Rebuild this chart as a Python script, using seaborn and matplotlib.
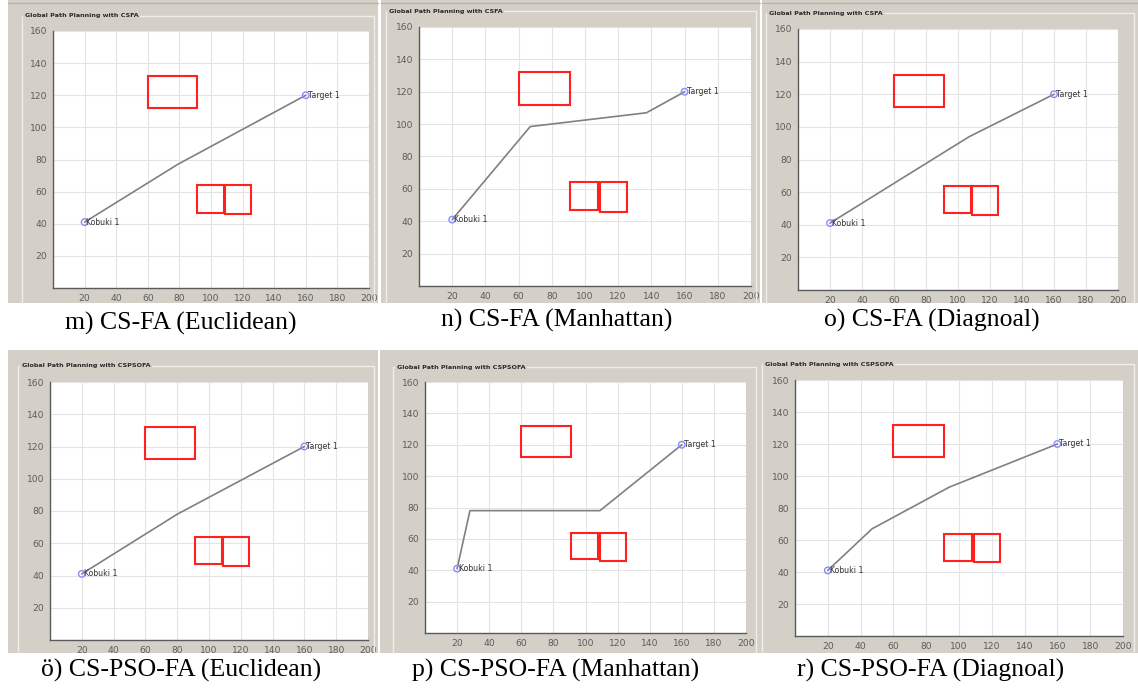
import matplotlib
matplotlib.use("Agg")
import matplotlib.pyplot as plt
from matplotlib.patches import Rectangle
from matplotlib.lines import Line2D
import seaborn as sns
import pandas as pd

sns.set_style("white")
plt.rcParams["font.family"] = ["DejaVu Sans"]

W, H = 1138, 693

# Obstacles: (x, y, width, height)
obstacle_x = [60, 91, 109]
obstacle_y = [112, 47, 46]
obstacle_w = [31, 17, 16]
obstacle_h = [20, 17, 18]

start_xy = (20, 41)
target_xy = (160, 120)
start_label = "Kobuki 1"
target_label = "Target 1"

# Planned paths (waypoints)
path_m_x = [20, 79, 160]
path_m_y = [41, 77, 120]
path_n_x = [20, 67, 137, 160]
path_n_y = [41, 98.5, 107, 120]
path_o_x = [20, 61, 107, 160]
path_o_y = [41, 66, 94, 120]
path_oe_x = [20, 80, 160]
path_oe_y = [41, 78, 120]
path_p_x = [20, 28, 109, 160]
path_p_y = [41, 78, 78, 120]
path_r_x = [20, 47, 94, 160]
path_r_y = [41, 67, 93, 120]

titles_top = "Global Path Planning with CSFA"
titles_bot = "Global Path Planning with CSPSOFA"
captions = ["m) CS-FA (Euclidean)", "n) CS-FA (Manhattan)", "o) CS-FA (Diagnoal)",
            "ö) CS-PSO-FA (Euclidean)", "p) CS-PSO-FA (Manhattan)", "r) CS-PSO-FA (Diagnoal)"]

x_ticks = [20, 40, 60, 80, 100, 120, 140, 160, 180, 200]
y_ticks = [20, 40, 60, 80, 100, 120, 140, 160]

panels = [
    # axes px (L, R, T, B), grey panel px (x0, x1, y0, y1), frame corner px, title px, caption px, path
    dict(ax=(53, 369, 31, 288), bg=(8, 378, 0, 303), frame=(22, 16), title=(25, 16), title_text=titles_top,
         cap=(181, 323), path=(path_m_x, path_m_y)),
    dict(ax=(419, 751, 27, 286), bg=(381, 760, 0, 303), frame=(386, 11), title=(389, 11), title_text=titles_top,
         cap=(557, 320), path=(path_n_x, path_n_y)),
    dict(ax=(798, 1118, 29, 290), bg=(762, 1138, 0, 303), frame=(766, 13), title=(769, 13), title_text=titles_top,
         cap=(932, 320), path=(path_o_x, path_o_y)),
    dict(ax=(50, 368, 382, 640), bg=(8, 378, 350, 653), frame=(18, 366), title=(22, 366), title_text=titles_bot,
         cap=(181, 670), path=(path_oe_x, path_oe_y)),
    dict(ax=(425, 746, 382, 633), bg=(380, 760, 350, 653), frame=(393, 367), title=(397, 367), title_text=titles_bot,
         cap=(556, 670), path=(path_p_x, path_p_y)),
    dict(ax=(795, 1123, 380, 636), bg=(758, 1138, 350, 653), frame=(762, 364), title=(765, 364), title_text=titles_bot,
         cap=(931, 670), path=(path_r_x, path_r_y)),
]

fig = plt.figure(figsize=(W / 100, H / 100), dpi=100)
fig.patch.set_facecolor("white")

PANEL_GREY = "#d4d0c8"
FRAME_LIGHT = "#f0eee9"


def fx(px):
    return px / W


def fy(py):
    return 1 - py / H


def fig_line(xs, ys, color, lw=1.0, z=0.6):
    fig.add_artist(Line2D([fx(v) for v in xs], [fy(v) for v in ys], transform=fig.transFigure,
                          color=color, linewidth=lw, zorder=z))


for i, p in enumerate(panels):
    x0, x1, y0, y1 = p["bg"]
    fig.add_artist(Rectangle((fx(x0), fy(y1)), fx(x1 - x0), (y1 - y0) / H,
                             transform=fig.transFigure, facecolor=PANEL_GREY, edgecolor="none", zorder=0))
    # etched frame of the panel (left, top, right edges)
    fxl, fyt = p["frame"]
    fxr = x1 - 4
    fig_line([fxl, fxl, fxr, fxr], [y1, fyt, fyt, y1], FRAME_LIGHT)
    if y0 < 5:
        fig_line([x0, x1], [3, 3], "#b8b4ac")
    tx, ty = p["title"]
    fig.text(fx(tx), fy(ty), p["title_text"], fontsize=4.6, fontweight="bold", color="#2a2a2a",
             ha="left", va="center", zorder=2,
             bbox=dict(facecolor=PANEL_GREY, edgecolor="none", pad=1.2))

    L, R, T, B = p["ax"]
    ax = fig.add_axes([fx(L), fy(B), fx(R - L), (B - T) / H])
    ax.set_facecolor("white")
    ax.set_xlim(0, 200)
    ax.set_ylim(0, 160)
    ax.set_xticks(x_ticks)
    ax.set_yticks(y_ticks)
    ax.grid(True, color="#e4e4e4", linewidth=0.8)
    ax.set_axisbelow(True)
    for s in ["top", "right"]:
        ax.spines[s].set_visible(False)
    for s in ["left", "bottom"]:
        ax.spines[s].set_color("#5a5a5a")
        ax.spines[s].set_linewidth(1.0)
    ax.tick_params(axis="both", direction="in", length=2.5, width=0.6, color="#5a5a5a",
                   labelsize=6.6, labelcolor="#5c5c5c", pad=4)

    for ox, oy, ow, oh in zip(obstacle_x, obstacle_y, obstacle_w, obstacle_h):
        ax.add_patch(Rectangle((ox, oy), ow, oh, facecolor="none", edgecolor="#ff2020",
                               linewidth=1.5, zorder=3))

    px, py = p["path"]
    df = pd.DataFrame({"x": px, "y": py})
    sns.lineplot(data=df, x="x", y="y", ax=ax, sort=False, estimator=None,
                 color="#808080", linewidth=1.2, zorder=4)

    pts = pd.DataFrame({"x": [start_xy[0], target_xy[0]], "y": [start_xy[1], target_xy[1]]})
    sns.scatterplot(data=pts, x="x", y="y", ax=ax, marker="o", s=22, facecolor="none",
                    edgecolor="#8a8aff", linewidth=1.0, zorder=5)
    ax.text(start_xy[0] + 1.2, start_xy[1], start_label, fontsize=5.6, color="#333333",
            ha="left", va="center", zorder=6)
    ax.text(target_xy[0] + 1.2, target_xy[1], target_label, fontsize=5.6, color="#333333",
            ha="left", va="center", zorder=6)
    ax.set_xlabel("")
    ax.set_ylabel("")

    cx, cy = p["cap"]
    fig.text(fx(cx), fy(cy), captions[i], fontsize=18.5, family="Liberation Serif",
             ha="center", va="center", color="black", zorder=3)

fig.savefig("out.png", dpi=100, facecolor="white")
